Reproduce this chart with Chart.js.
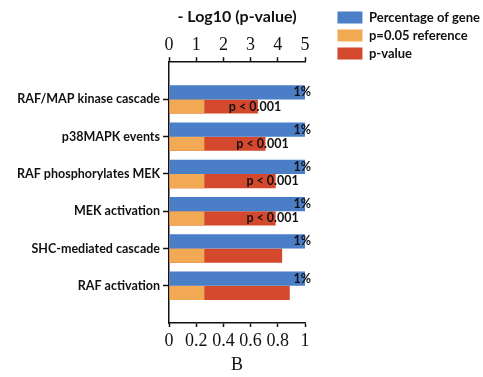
<!DOCTYPE html>
<html>
<head>
<meta charset="utf-8">
<script src="https://cdn.jsdelivr.net/npm/chart.js@4.4.1/dist/chart.umd.min.js"></script>
<style>
  html, body { margin: 0; padding: 0; background: #fff; }
  #wrap { position: relative; width: 483px; height: 377px; }
</style>
</head>
<body>
<div id="wrap"><canvas id="pathwayChart"></canvas></div>
<script>
// pathway rows, top to bottom
const pathways = ['RAF/MAP kinase cascade', 'p38MAPK events', 'RAF phosphorylates MEK',
                  'MEK activation', 'SHC-mediated cascade', 'RAF activation'];
// bottom axis (0-1)
const geneShare = [1, 1, 1, 1, 1, 1];
const shareLabels = ['1%', '1%', '1%', '1%', '1%', '1%'];
// top axis, -log10(p)
const refLevel = [1.3, 1.3, 1.3, 1.3, 1.3, 1.3];
const logP = [3.27, 3.55, 3.92, 3.92, 4.16, 4.44];
const pLabels = ['p < 0.001', 'p < 0.001', 'p < 0.001', 'p < 0.001', '', ''];

// empty slot above and below so rows sit between the axis ends
const pad = arr => [null, ...arr, null];
const rowLabels = ['', ...pathways, ''];

const serif = { family: '"Liberation Serif", "Times New Roman", serif', size: 18 };
const boldSans = size => ({ family: 'Lato, "Open Sans", sans-serif', size: size, weight: 'bold' });
const PLOT_RIGHT = 305;
const EDGE = 7; // legend pushed a little past the right padding

const barText = {
    id: 'barText',
    afterDatasetsDraw(chart) {
        const ctx = chart.ctx;
        ctx.save();
        ctx.font = 'bold 12.5px Lato, "Open Sans", sans-serif';
        ctx.fillStyle = '#111';
        ctx.textBaseline = 'middle';
        // percentage labels at the blue bar ends
        ctx.textAlign = 'right';
        chart.getDatasetMeta(0).data.forEach((bar, i) => {
            const txt = shareLabels[i - 1];
            if (txt) ctx.fillText(txt, bar.x + 6, bar.y);
        });
        // p-value labels on the red bars
        ctx.textAlign = 'center';
        chart.getDatasetMeta(2).data.forEach((bar, i) => {
            const txt = pLabels[i - 1];
            if (txt) ctx.fillText(txt, bar.x - 3, bar.y);
        });
        ctx.restore();
    }
};

const canvas = document.getElementById('pathwayChart');
new Chart(canvas, {
    type: 'bar',
    data: {
        labels: rowLabels,
        datasets: [
            {
                label: 'Percentage of gene',
                data: pad(geneShare),
                xAxisID: 'x2',
                stack: 'gene',
                order: 0,
                backgroundColor: '#4a7ec7',
                borderWidth: 0
            },
            {
                label: 'p=0.05 reference',
                data: pad(refLevel),
                xAxisID: 'x',
                stack: 'p',
                order: 1,
                backgroundColor: '#f1a953',
                borderWidth: 0
            },
            {
                label: 'p-value',
                data: pad(logP),
                xAxisID: 'x',
                stack: 'p',
                order: 2,
                backgroundColor: '#d4482d',
                borderWidth: 0
            }
        ]
    },
    options: {
        indexAxis: 'y',
        responsive: true,
        maintainAspectRatio: false,
        animation: false,
        categoryPercentage: 0.76,
        barPercentage: 1,
        layout: { padding: { top: 6, right: -EDGE, bottom: 0, left: 0 } },
        plugins: {
            title: {
                display: true,
                text: '- Log10 (p-value)',
                fullSize: false,
                color: '#111',
                font: boldSans(16),
                padding: { top: 1, bottom: 7 }
            },
            legend: {
                position: 'right',
                align: 'start',
                maxWidth: 220,
                labels: {
                    boxWidth: 25,
                    boxHeight: 12,
                    padding: 5,
                    color: '#111',
                    font: boldSans(13)
                }
            },
            tooltip: { enabled: false }
        },
        scales: {
            y: {
                type: 'category',
                offset: false,
                grid: {
                    offset: false,
                    drawOnChartArea: false,
                    tickLength: 6,
                    tickWidth: 1.5,
                    tickColor: c => (c.index === 0 || c.index === rowLabels.length - 1) ? 'rgba(0,0,0,0)' : '#111'
                },
                border: { color: '#111', width: 1.5 },
                ticks: { color: '#111', font: boldSans(12.5), padding: 3, autoSkip: false },
                afterFit: s => { s.width = 169; }
            },
            x: {
                type: 'linear',
                position: 'top',
                min: 0,
                max: 5,
                stacked: false,
                grid: { drawOnChartArea: false, tickLength: 5, tickWidth: 1.5, tickColor: '#111' },
                border: { color: '#111', width: 1.5 },
                ticks: { stepSize: 1, color: '#111', font: serif, padding: 1, maxRotation: 0 },
                afterFit: s => { s.height = 29; }
            },
            x2: {
                type: 'linear',
                position: 'bottom',
                min: 0,
                max: 1,
                stacked: false,
                grid: { drawOnChartArea: false, tickLength: 4, tickWidth: 1.5, tickColor: '#111' },
                border: { color: '#111', width: 1.5 },
                ticks: {
                    stepSize: 0.2, color: '#111', font: serif, padding: 3, autoSkip: false, maxRotation: 0,
                    callback: v => String(Number(v.toFixed(1)))
                },
                title: { display: true, text: 'B', color: '#111', font: serif, padding: { top: 0, bottom: 1 } },
                afterFit: s => { s.height = 54; }
            },
            // empty spacer between the plot and the legend
            gap: {
                type: 'linear',
                position: 'right',
                grid: { display: false },
                border: { display: false },
                ticks: { display: false },
                afterFit: s => { s.width = Math.max(0, s.chart.width + EDGE - PLOT_RIGHT - s.chart.legend.width); }
            }
        }
    },
    plugins: [barText]
});
</script>
</body>
</html>
